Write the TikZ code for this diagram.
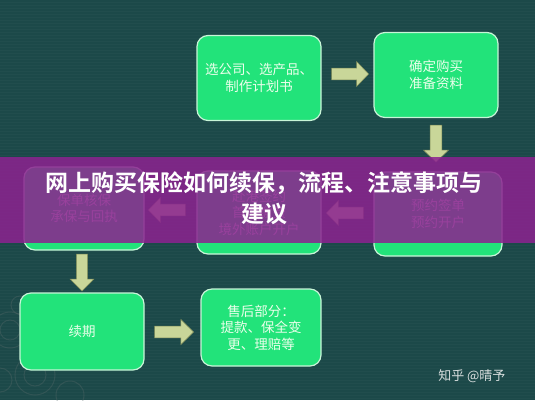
\documentclass[tikz,border=0pt]{standalone}
\usepackage{fontspec}
\newfontfamily\cjk{Noto Sans CJK SC}[BoldFont={Noto Sans CJK SC Bold}]
\definecolor{bgteal}{HTML}{1C4949}
\definecolor{boxgreen}{HTML}{22E37A}
\definecolor{boxedge}{HTML}{C8F5D8}
\definecolor{arrowfill}{HTML}{C9D699}
\definecolor{arrowedge}{HTML}{7F8C58}
\definecolor{banner}{HTML}{8C2290}
\definecolor{wm}{HTML}{D8DEDE}
\tikzset{
  stepbox/.style={draw=boxedge, line width=1.2pt, fill=boxgreen, rounded corners=11pt,
    text=white!92!green, font=\cjk\fontsize{13.5}{16.5}\selectfont, align=center, inner sep=0pt},
  blockarrow/.pic={
    \filldraw[fill=arrowfill, draw=arrowedge, line width=0.5pt]
      (-18,-5.8) -- (7,-5.8) -- (7,-12.5) -- (19,0) -- (7,12.5) -- (7,5.8) -- (-18,5.8) -- cycle;
  },
}
\begin{document}
\begin{tikzpicture}[x=1pt,y=-1pt]
\useasboundingbox (0,0) rectangle (535,400);
\fill[bgteal] (0,0) rectangle (535,400);
% faint horizontal texture
\foreach \yy in {2,5,...,400} {\draw[white,opacity=0.025,line width=0.6pt] (0,\yy) -- (535,\yy);}
% faint floral ornament bottom-left
\begin{scope}[draw=gray!60!bgteal,opacity=0.35,line width=1pt]
  \draw (10,330) circle (18);
  \draw (10,330) circle (10);
  \draw (35,375) circle (20);
  \draw (35,375) circle (11);
  \draw (70,395) circle (14);
  \draw (0,380) circle (12);
  \draw (20,305) circle (9);
\end{scope}

% boxes
\node[stepbox, minimum width=124pt, minimum height=85pt] (b1) at (259,78) {选公司、选产品、\\制作计划书};
\node[stepbox, minimum width=124pt, minimum height=85pt] (b2) at (436,75) {确定购买\\准备资料};
\node[stepbox, minimum width=128pt, minimum height=84pt] (b3) at (438,214) {预约签单\\预约开户};
\node[stepbox, minimum width=124pt, minimum height=83pt] (b4) at (259,212.5) {赴港签约\\首期缴费\\境外账户开户};
\node[stepbox, minimum width=120pt, minimum height=83pt] (b5) at (84,208.5) {保单核保\\承保与回执};
\node[stepbox, minimum width=124pt, minimum height=77pt] (b6) at (82,331.5) {续期};
\node[stepbox, minimum width=120pt, minimum height=77pt] (b7) at (261,327.5) {售后部分：\\提款、保全变\\更、理赔等};

% block arrows between boxes
\path (b1.east) ++(28,-4) pic {blockarrow};
\path (b2.south) ++(0,25) pic[rotate=-90] {blockarrow};
\path (b3.west) ++(-28,-1) pic[rotate=180] {blockarrow};
\path (b4.west) ++(-29,-2.5) pic[rotate=180] {blockarrow};
\path (b5.south) ++(-2,21.5) pic[rotate=-90, yscale=0.95] {blockarrow};
\path (b6.east) ++(29,0.5) pic[xscale=1.05] {blockarrow};

% title banner
\fill[banner, opacity=0.86] (0,157) rectangle (535,243);
\node[font=\cjk\bfseries\fontsize{23}{31}\selectfont, text=white, align=center] (title) at (264,198)
  {网上购买保险如何续保，流程、注意事项与\\建议};

% watermark
\node[font=\cjk\fontsize{13}{15}\selectfont, text=wm, anchor=east] (wmark) at (509,376) {知乎 @晴予};
\end{tikzpicture}
\end{document}
